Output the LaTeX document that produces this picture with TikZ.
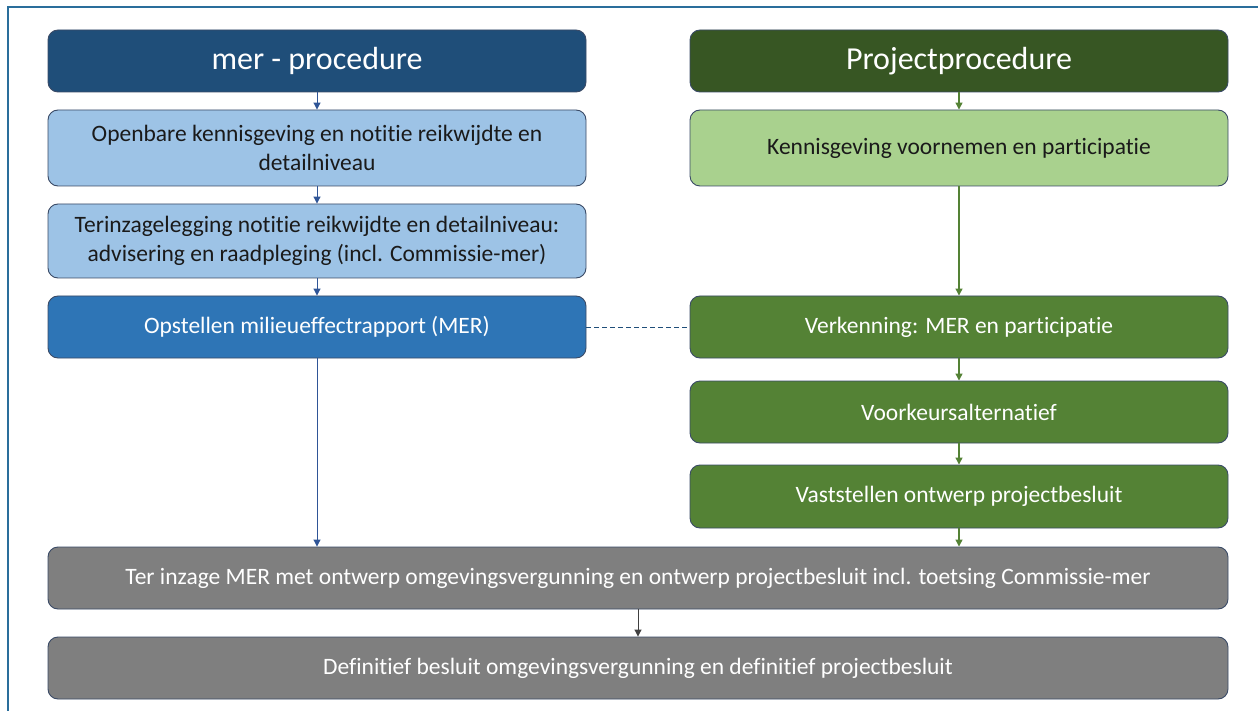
\documentclass[tikz,border=0pt]{standalone}
\usepackage{fontspec}
\setmainfont{Carlito}[Ligatures={NoCommon}]
\usetikzlibrary{arrows.meta}
\definecolor{frameblue}{HTML}{2A6E9B}
\definecolor{hdblue}{HTML}{1F4E79}
\definecolor{ltblue}{HTML}{9DC3E6}
\definecolor{mdblue}{HTML}{2E75B6}
\definecolor{hdgreen}{HTML}{375623}
\definecolor{ltgreen}{HTML}{A9D18E}
\definecolor{mdgreen}{HTML}{548235}
\definecolor{boxgray}{HTML}{7F7F7F}
\definecolor{edge}{HTML}{3A4A66}
\definecolor{arrblue}{HTML}{2F5597}
\definecolor{txtdark}{HTML}{1A1A1A}
\tikzset{
  box/.style={draw=edge, line width=0.9pt, rounded corners=10pt, minimum width=538pt, align=center, inner sep=0pt, font=\fontsize{23.5}{29}\selectfont},
  hdr/.style={box, minimum height=62pt, text=white, font=\fontsize{32}{38}\selectfont},
  wide/.style={box, minimum width=1180pt, minimum height=62pt, fill=boxgray, text=white},
  bluearr/.style={draw=arrblue, line width=1pt, -{Triangle[length=7pt,width=7pt]}},
  greenarr/.style={draw=mdgreen, line width=1.2pt, -{Triangle[length=7pt,width=7pt]}},
  grayarr/.style={draw=black!75, line width=1pt, -{Triangle[length=7pt,width=7pt]}}
}
\begin{document}
\begin{tikzpicture}[x=1pt,y=-1pt]
\useasboundingbox (0,0) rectangle (1258,711);
\fill[white] (0,0) rectangle (1258,711);
\draw[frameblue, line width=1.5pt] (8,720) -- (8,7) -- (1270,7);
% left column
\node[hdr, fill=hdblue] (lh) at (317,61) {mer - procedure};
\node[box, fill=ltblue, text=txtdark, minimum height=76pt] (l1) at (317,148) {Openbare kennisgeving en notitie reikwijdte en\\detailniveau};
\node[box, fill=ltblue, text=txtdark, minimum height=74pt] (l2) at (317,241) {Terinzagelegging notitie reikwijdte en detailniveau:\\advisering en raadpleging (incl. Commissie-mer)};
\node[box, fill=mdblue, text=white, minimum height=62pt] (l3) at (317,327) {Opstellen milieueffectrapport (MER)};
% right column
\node[hdr, fill=hdgreen] (rh) at (959,61) {Projectprocedure};
\node[box, fill=ltgreen, text=txtdark, minimum height=76pt] (r1) at (959,148) {Kennisgeving voornemen en participatie};
\node[box, fill=mdgreen, text=white, minimum height=62pt] (r2) at (959,327) {Verkenning: MER en participatie};
\node[box, fill=mdgreen, text=white, minimum height=62pt] (r3) at (959,412) {Voorkeursalternatief};
\node[box, fill=mdgreen, text=white, minimum height=63pt] (r4) at (959,496.5) {Vaststellen ontwerp projectbesluit};
% bottom
\node[wide] (g1) at (638,578) {Ter inzage MER met ontwerp omgevingsvergunning en ontwerp projectbesluit incl. toetsing Commissie-mer};
\node[wide] (g2) at (638,668) {Definitief besluit omgevingsvergunning en definitief projectbesluit};
% connectors
\draw[bluearr] (lh) -- (l1);
\draw[bluearr] (l1) -- (l2);
\draw[bluearr] (l2) -- (l3);
\draw[bluearr] (l3.south) -- (l3.south |- g1.north);
\draw[greenarr] (rh) -- (r1);
\draw[greenarr] (r1) -- (r2);
\draw[greenarr] (r2) -- (r3);
\draw[greenarr] (r3) -- (r4);
\draw[greenarr] (r4.south) -- (r4.south |- g1.north);
\draw[grayarr] (g1) -- (g2);
\draw[hdblue, line width=1pt, dash pattern=on 5pt off 3pt] (l3.east) -- (r2.west);
\end{tikzpicture}
\end{document}
